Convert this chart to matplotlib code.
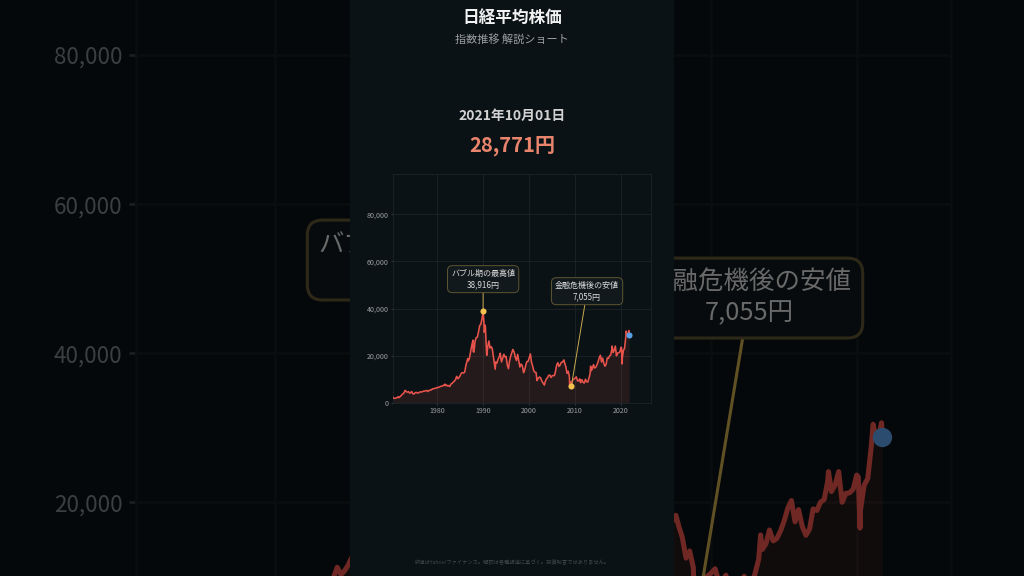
import matplotlib
matplotlib.use('Agg')
import matplotlib.pyplot as plt
from matplotlib.patches import Rectangle
from matplotlib.ticker import FuncFormatter
import numpy as np

plt.rcParams['font.family'] = ['Noto Sans CJK JP', 'DejaVu Sans']

# ---------------- data ----------------
title = '日経平均株価'
subtitle = '指数推移 解説ショート'
date_label = '2021年10月01日'
price_label = '28,771円'
footer = '終値はYahoo!ファイナンス。解説は各種報道に基づく。投資助言ではありません。'

dates = [
    1970.40, 1970.60, 1970.90, 1971.25, 1971.55, 1971.65, 1971.95,
    1972.25, 1972.55, 1972.80, 1972.99, 1973.05, 1973.30, 1973.55, 1973.80, 1973.95,
    1974.20, 1974.45, 1974.75, 1974.95, 1975.25, 1975.50, 1975.75, 1975.99,
    1976.25, 1976.50, 1976.75, 1976.99, 1977.25, 1977.50, 1977.75, 1977.99,
    1978.25, 1978.50, 1978.75, 1978.99, 1979.25, 1979.50, 1979.75, 1979.99,
    1980.25, 1980.50, 1980.75, 1980.99, 1981.25, 1981.50, 1981.70, 1981.75, 1981.99,
    1982.25, 1982.50, 1982.75, 1982.99, 1983.25, 1983.50, 1983.75, 1983.99,
    1984.25, 1984.50, 1984.75, 1984.99, 1985.25, 1985.50, 1985.75, 1985.99,
    1986.25, 1986.50, 1986.65, 1986.75, 1986.99, 1987.25, 1987.50, 1987.79, 1987.83, 1987.99,
    1988.25, 1988.50, 1988.75, 1988.99, 1989.25, 1989.50, 1989.75, 1989.99,
    1990.15, 1990.25, 1990.45, 1990.50, 1990.75, 1990.80, 1990.99,
    1991.25, 1991.50, 1991.75, 1991.99, 1992.25, 1992.50, 1992.62, 1992.75, 1992.99,
    1993.25, 1993.50, 1993.72, 1993.80, 1993.99, 1994.25, 1994.50, 1994.75, 1994.99,
    1995.25, 1995.50, 1995.75, 1995.99, 1996.25, 1996.45, 1996.50, 1996.75, 1996.99,
    1997.25, 1997.50, 1997.75, 1997.99, 1998.25, 1998.50, 1998.75, 1998.78, 1998.99,
    1999.25, 1999.50, 1999.75, 1999.99, 2000.28, 2000.50, 2000.75, 2000.99,
    2001.25, 2001.50, 2001.72, 2001.75, 2001.99, 2002.25, 2002.50, 2002.75, 2002.99,
    2003.25, 2003.32, 2003.50, 2003.75, 2003.99, 2004.25, 2004.50, 2004.75, 2004.99,
    2005.25, 2005.50, 2005.75, 2005.99, 2006.25, 2006.50, 2006.75, 2006.99,
    2007.25, 2007.50, 2007.55, 2007.75, 2007.99, 2008.25, 2008.50, 2008.75, 2008.82, 2008.99,
    2009.18, 2009.25, 2009.50, 2009.75, 2009.99, 2010.25, 2010.50, 2010.75, 2010.99,
    2011.20, 2011.25, 2011.50, 2011.75, 2011.99, 2012.25, 2012.50, 2012.75, 2012.99,
    2013.25, 2013.38, 2013.50, 2013.75, 2013.99, 2014.25, 2014.50, 2014.75, 2014.99,
    2015.25, 2015.50, 2015.75, 2015.99, 2016.25, 2016.50, 2016.75, 2016.99,
    2017.25, 2017.50, 2017.75, 2017.99, 2018.05, 2018.25, 2018.50, 2018.75, 2018.99,
    2019.25, 2019.50, 2019.75, 2019.99, 2020.10, 2020.22, 2020.25, 2020.50, 2020.75, 2020.99,
    2021.12, 2021.25, 2021.50, 2021.70, 2021.74, 2021.75,
]
values = [
    2400, 1950, 2000, 2250, 2650, 2250, 2700,
    3300, 3900, 4300, 5200, 5360, 4800, 4600, 4800, 4300,
    4200, 4900, 3900, 3800, 4400, 4500, 4150, 4360,
    4700, 4650, 4750, 4990, 5050, 5200, 5300, 4870,
    5350, 5450, 5600, 6000, 6100, 6150, 6350, 6570,
    6550, 6800, 7050, 7120, 7300, 7650, 8000, 7350, 7680,
    7200, 7400, 7000, 8020, 8350, 8800, 9300, 9890,
    11300, 10300, 10800, 11540, 12600, 12900, 12700, 13110,
    15900, 17650, 18800, 17850, 18700, 21570, 24170, 26650, 21900, 21560,
    26260, 27770, 27920, 30160, 32840, 33380, 35640, 38916,
    34500, 29980, 33000, 31940, 20980, 20220, 23850,
    26290, 23290, 23920, 22980, 19350, 15950, 14310, 17400, 16920,
    18590, 19590, 21100, 19800, 17420, 19110, 20640, 19560, 19720,
    16140, 14520, 17910, 19870, 21410, 22670, 22530, 21560, 19360,
    18000, 20600, 17890, 15260, 16530, 15830, 13410, 12880, 13840,
    15840, 17530, 17600, 18930, 20830, 17410, 15750, 13790,
    13000, 12970, 9500, 9770, 10540, 11020, 10620, 9380, 8580,
    7970, 7610, 9080, 10220, 10680, 11720, 11860, 10820, 11490,
    11670, 11580, 13570, 16110, 17060, 15510, 16130, 17230,
    17290, 18140, 18260, 16790, 15310, 12530, 13480, 11260, 7160, 8860,
    7055, 8110, 9960, 10130, 10550, 11090, 9380, 9370, 10230,
    8600, 9760, 9820, 8700, 8460, 10080, 9010, 8870, 10400,
    12400, 15630, 13680, 14460, 16290, 14830, 15160, 16170, 17450,
    19210, 20240, 17390, 19030, 16760, 15580, 16450, 19110,
    18910, 20030, 20360, 22760, 24120, 21450, 22300, 24120, 20010,
    21210, 21280, 21760, 23660, 23400, 16550, 18920, 22290, 23190, 27440,
    30470, 29180, 28790, 30670, 29450, 28771,
]

peak_label = 'バブル期の最高値\n38,916円'
peak_point = (1989.99, 38916)
low_label = '金融危機後の安値\n7,055円'
low_point = (2009.18, 7055)
last_point = (2021.75, 28771)

y_ticks = [0, 20000, 40000, 60000, 80000]
x_ticks = [1980, 1990, 2000, 2010, 2020]

# ---------------- style ----------------
W, H = 1024, 576
VW, VH = 324, 576
PANEL = '#0b1215'
LINE = '#e8544c'
GOLD = '#f2c14e'
BLUE = '#5aa0e6'


def draw_video(fig, x0, y0, s, z, tick_color='#9aa0a3', grid_color='#1c2528'):
    def fx(px):
        return (x0 + px * s) / W

    def fy(py):
        return 1 - (y0 + py * s) / H

    fig.add_artist(Rectangle((fx(0), fy(VH)), VW * s / W, VH * s / H,
                             transform=fig.transFigure, fc=PANEL, ec='none', zorder=z))

    fig.text(fx(162), fy(18), title, ha='center', va='center', fontsize=12 * s,
             fontweight='bold', color='#f2f2f2', zorder=z + 2)
    fig.text(fx(162), fy(40), subtitle, ha='center', va='center', fontsize=8 * s,
             color='#9a9ea0', zorder=z + 2)
    fig.text(fx(162), fy(116), date_label, ha='center', va='center', fontsize=10 * s,
             fontweight='bold', color='#d2d2d2', zorder=z + 2)
    fig.text(fx(162), fy(146), price_label, ha='center', va='center', fontsize=14.5 * s,
             fontweight='bold', color='#e9846d', zorder=z + 2)
    fig.text(fx(162), fy(562), footer, ha='center', va='center', fontsize=3.8 * s,
             color='#3f484b', zorder=z + 2)

    left, right, top, bottom = 43, 301, 173.5, 403
    ax = fig.add_axes([fx(left), fy(bottom), (right - left) * s / W, (bottom - top) * s / H])
    ax.set_zorder(z + 1)
    ax.set_facecolor(PANEL)
    ax.set_xlim(1970.4, 2026.5)
    ax.set_ylim(0, 97290)
    ax.set_xticks(x_ticks)
    ax.set_yticks(y_ticks)
    ax.yaxis.set_major_formatter(FuncFormatter(lambda v, p: f'{int(v):,}'))
    ax.tick_params(labelcolor=tick_color, labelsize=5.1 * s, length=1.6 * s,
                   width=0.6 * s, pad=1.5 * s, color='#3a4245')
    ax.grid(True, color=grid_color, lw=0.6 * s)
    ax.set_axisbelow(True)
    for sp in ax.spines.values():
        sp.set_color(grid_color)
        sp.set_linewidth(0.6 * s)

    ax.fill_between(dates, values, 0, color=LINE, alpha=0.12, lw=0, zorder=2)
    ax.plot(dates, values, color=LINE, lw=1.15 * s, zorder=3, solid_joinstyle='round')

    box = dict(boxstyle='round,pad=0.45,rounding_size=0.6', fc='#12191c',
               ec='#5f5532', lw=0.7 * s)
    ax.annotate(peak_label, xy=peak_point, xytext=(1990.0, 52500),
                ha='center', va='center', fontsize=5.8 * s, color='#dcdcdc',
                linespacing=1.25, bbox=box, zorder=6,
                arrowprops=dict(arrowstyle='-', color='#c9a94f', lw=0.7 * s,
                                shrinkA=0, shrinkB=0))
    ax.annotate(low_label, xy=low_point, xytext=(2012.6, 47400),
                ha='center', va='center', fontsize=5.8 * s, color='#dcdcdc',
                linespacing=1.25, bbox=box, zorder=6,
                arrowprops=dict(arrowstyle='-', color='#c9a94f', lw=0.7 * s,
                                shrinkA=0, shrinkB=0))
    ax.plot([peak_point[0]], [peak_point[1]], 'o', ms=4.4 * s, color=GOLD, mec='none', zorder=7)
    ax.plot([low_point[0]], [low_point[1]], 'o', ms=4.4 * s, color=GOLD, mec='none', zorder=7)
    ax.plot([last_point[0]], [last_point[1]], 'o', ms=4.4 * s, color=BLUE, mec='none', zorder=7)
    return ax


fig = plt.figure(figsize=(W / 100, H / 100), dpi=100, facecolor='black')

# zoomed, dimmed background copy of the short
s_bg = W / VW
draw_video(fig, 0, H / 2 - VH * s_bg / 2, s_bg, 1,
           tick_color='#7e8588', grid_color='#151c1f')
fig.add_artist(Rectangle((0, 0), 1, 1, transform=fig.transFigure, fc='black',
                         alpha=0.52, ec='none', zorder=8))

# foreground short
draw_video(fig, (W - VW) / 2, 0, 1.0, 10)

fig.savefig('out.png', dpi=100, facecolor='black')
